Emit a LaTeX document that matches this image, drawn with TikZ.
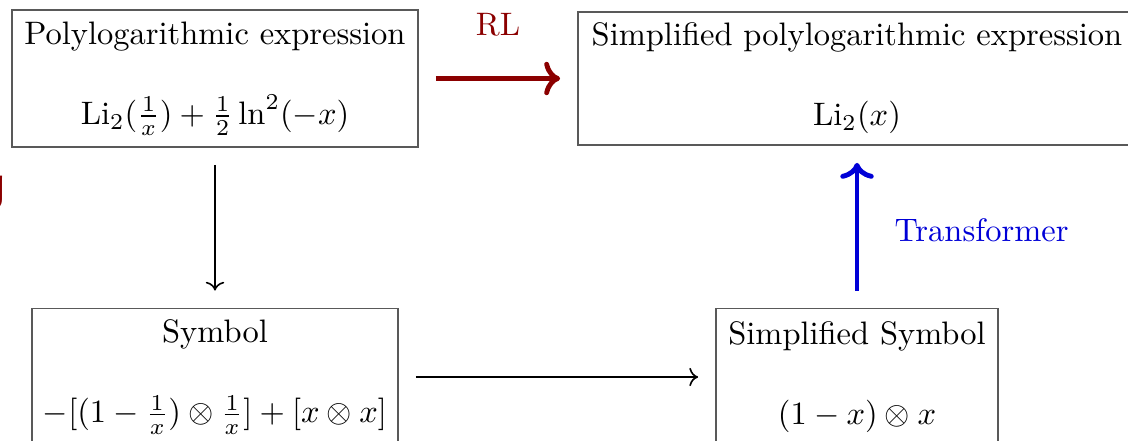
\documentclass[tikz,border=0pt]{standalone}
\usepackage{xcolor}
\usepackage{mathtools,amsfonts,amsmath}
\usepackage{fontspec}
\usepackage{tikz}
\usetikzlibrary{arrows.meta, positioning}

\newfontfamily\slidefont{Liberation Sans}
\definecolor{rlred}{RGB}{139,0,0}
\definecolor{tfblue}{RGB}{0,0,215}

\begin{document}
\begin{tikzpicture}[x=0.3077pt, y=-0.3077pt,
        box/.style={draw=black!65, line width=0.4pt, align=center, inner sep=0pt},
        flow/.style={->, line width=0.5pt, shorten >=5.3pt, shorten <=5.3pt},
        bigflow/.style={flow, line width=1.5pt}]
                % Page frame
                \useasboundingbox (0,0) rectangle (1128,440);
                % Cut-off title letter
                \node[anchor=base east, inner sep=0pt, text=rlred, font=\fontsize{14.2}{16}\slidefont\bfseries] (cut) at (6,200) {g};
                % Top row
                \node[box, minimum width=124.9pt, minimum height=42.2pt] (poly) at (215,78.5)
                    {Polylogarithmic expression\\[12.6pt] $\mathrm{Li}_2(\frac{1}{x})+\frac{1}{2}\ln^2(-x)$};
                \node[box, minimum width=171.7pt, minimum height=40.9pt] (simp) at (857,78.5)
                    {Simplified polylogarithmic expression\\[12.6pt] $\mathrm{Li}_2(x)$};
                % Bottom row
                \node[box, minimum width=112.6pt, minimum height=42.2pt] (sym) at (215,377)
                    {Symbol\\[12.6pt] $-[(1-\frac{1}{x})\otimes\frac{1}{x}]+[x\otimes x]$};
                \node[box, minimum width=86.8pt, minimum height=42.2pt] (ssym) at (857,377)
                    {Simplified Symbol\\[12.6pt] $(1-x)\otimes x$};
                % Arrows
                \draw[bigflow, rlred] (poly) -- (simp) node[midway, above=9pt] (rl) {RL};
                \draw[flow] (poly) -- (sym);
                \draw[flow] (sym) -- (ssym);
                \draw[bigflow, tfblue] (ssym) -- (simp) node[midway, right=7.5pt, yshift=-1pt] (tf) {Transformer};
\end{tikzpicture}
\end{document}
